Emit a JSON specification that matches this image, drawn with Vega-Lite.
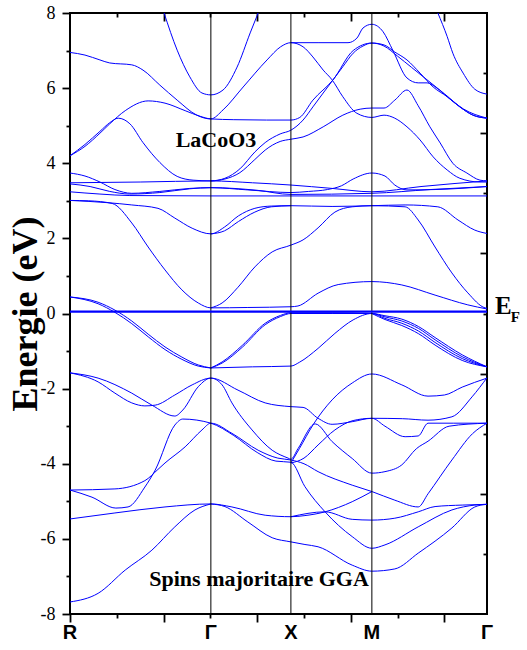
{
"$schema": "https://vega.github.io/schema/vega-lite/v6.json",
"width": 417, "height": 601,
"autosize": {"type": "none"},
"padding": {"left": 70, "top": 13, "right": 40, "bottom": 36},
"background": "white",
"config": {"view": {"stroke": "black", "strokeWidth": 2}, "axis": {"domain": false, "grid": false, "tickColor": "black", "tickWidth": 1.8}},
"datasets": {
"bands": [
{"b":1,"k":0,"e":6.95},{"b":1,"k":0.32,"e":6.88},{"b":1,"k":0.64,"e":6.75},{"b":1,"k":0.85,"e":6.67},{"b":1,"k":1.32,"e":6.62},{"b":1,"k":1.56,"e":6.48},{"b":1,"k":1.92,"e":6.08},{"b":1,"k":2.29,"e":5.68},{"b":1,"k":2.71,"e":5.28},{"b":1,"k":3.01,"e":5.18},{"b":1,"k":3.27,"e":5.42},{"b":1,"k":3.7,"e":6.03},{"b":1,"k":4.21,"e":6.75},{"b":1,"k":4.5,"e":7.1},{"b":1,"k":4.72,"e":7.21},{"b":1,"k":4.98,"e":7.1},{"b":1,"k":5.19,"e":6.83},{"b":1,"k":5.41,"e":6.48},{"b":1,"k":5.6,"e":6.22},{"b":1,"k":5.83,"e":5.77},{"b":1,"k":6.13,"e":5.33},{"b":1,"k":6.45,"e":5.22},{"b":1,"k":6.71,"e":5.28},{"b":1,"k":6.94,"e":5.2},{"b":1,"k":7.2,"e":4.97},{"b":1,"k":7.48,"e":4.62},{"b":1,"k":7.76,"e":4.17},{"b":1,"k":8.06,"e":3.82},{"b":1,"k":8.33,"e":3.6},{"b":1,"k":8.76,"e":3.5},{"b":1,"k":8.91,"e":3.5},
{"b":2,"k":2.01,"e":8.0},{"b":2,"k":2.29,"e":7.01},{"b":2,"k":2.56,"e":6.3},{"b":2,"k":2.82,"e":5.87},{"b":2,"k":3.01,"e":5.82},{"b":2,"k":3.27,"e":5.95},{"b":2,"k":3.57,"e":6.56},{"b":2,"k":3.85,"e":7.47},{"b":2,"k":4.02,"e":8.0},
{"b":3,"k":7.86,"e":8.0},{"b":3,"k":8.06,"e":7.37},{"b":3,"k":8.18,"e":6.93},{"b":3,"k":8.4,"e":6.4},{"b":3,"k":8.65,"e":5.97},{"b":3,"k":8.91,"e":5.84},
{"b":4,"k":0,"e":4.2},{"b":4,"k":0.32,"e":4.5},{"b":4,"k":0.64,"e":4.85},{"b":4,"k":0.85,"e":5.08},{"b":4,"k":1.03,"e":5.2},{"b":4,"k":1.28,"e":5.05},{"b":4,"k":1.56,"e":4.55},{"b":4,"k":1.92,"e":4.02},{"b":4,"k":2.29,"e":3.65},{"b":4,"k":2.63,"e":3.55},{"b":4,"k":3.01,"e":3.53},{"b":4,"k":3.31,"e":3.6},{"b":4,"k":3.63,"e":3.85},{"b":4,"k":3.95,"e":4.3},{"b":4,"k":4.17,"e":4.55},{"b":4,"k":4.49,"e":4.78},{"b":4,"k":4.72,"e":4.88},{"b":4,"k":4.98,"e":5.15},{"b":4,"k":5.19,"e":5.5},{"b":4,"k":5.41,"e":5.87},{"b":4,"k":5.62,"e":6.22},{"b":4,"k":5.83,"e":6.57},{"b":4,"k":6.05,"e":6.93},{"b":4,"k":6.26,"e":7.12},{"b":4,"k":6.45,"e":7.2},{"b":4,"k":6.71,"e":7.15},{"b":4,"k":6.94,"e":6.96},{"b":4,"k":7.2,"e":6.75},{"b":4,"k":7.48,"e":6.4},{"b":4,"k":7.76,"e":6.03},{"b":4,"k":8.06,"e":5.77},{"b":4,"k":8.33,"e":5.5},{"b":4,"k":8.61,"e":5.28},{"b":4,"k":8.91,"e":5.2},
{"b":5,"k":0,"e":4.2},{"b":5,"k":0.32,"e":4.45},{"b":5,"k":0.64,"e":4.8},{"b":5,"k":0.85,"e":5.05},{"b":5,"k":1.18,"e":5.4},{"b":5,"k":1.67,"e":5.66},{"b":5,"k":2.03,"e":5.6},{"b":5,"k":2.46,"e":5.4},{"b":5,"k":2.78,"e":5.25},{"b":5,"k":3.01,"e":5.18},{"b":5,"k":3.5,"e":5.16},{"b":5,"k":4.2,"e":5.15},{"b":5,"k":4.72,"e":5.15},{"b":5,"k":4.91,"e":5.22},{"b":5,"k":5.19,"e":5.68},{"b":5,"k":5.62,"e":6.22},{"b":5,"k":6.05,"e":7.0},{"b":5,"k":6.45,"e":7.2},{"b":5,"k":6.71,"e":7.12},{"b":5,"k":7.0,"e":6.85},{"b":5,"k":7.3,"e":6.55},{"b":5,"k":7.65,"e":6.2},{"b":5,"k":8.0,"e":5.85},{"b":5,"k":8.4,"e":5.45},{"b":5,"k":8.91,"e":5.2},
{"b":6,"k":4.72,"e":7.21},{"b":6,"k":5.3,"e":7.21},{"b":6,"k":5.94,"e":7.21},{"b":6,"k":6.13,"e":7.33},{"b":6,"k":6.26,"e":7.6},{"b":6,"k":6.45,"e":7.7},{"b":6,"k":6.69,"e":7.5},{"b":6,"k":6.9,"e":7.0},{"b":6,"k":7.2,"e":6.27},{"b":6,"k":7.44,"e":6.14},{"b":6,"k":7.63,"e":6.14},{"b":6,"k":7.84,"e":6.0},{"b":6,"k":8.06,"e":5.77},{"b":6,"k":8.33,"e":5.5},{"b":6,"k":8.61,"e":5.28},{"b":6,"k":8.91,"e":5.2},
{"b":7,"k":3.01,"e":3.53},{"b":7,"k":3.31,"e":3.58},{"b":7,"k":3.63,"e":3.75},{"b":7,"k":3.95,"e":4.1},{"b":7,"k":4.17,"e":4.35},{"b":7,"k":4.49,"e":4.58},{"b":7,"k":4.72,"e":4.64},{"b":7,"k":4.98,"e":4.7},{"b":7,"k":5.41,"e":4.97},{"b":7,"k":5.83,"e":5.28},{"b":7,"k":6.2,"e":5.44},{"b":7,"k":6.45,"e":5.47},{"b":7,"k":6.71,"e":5.47},{"b":7,"k":6.94,"e":5.68},{"b":7,"k":7.2,"e":5.95},{"b":7,"k":7.44,"e":5.53},{"b":7,"k":7.69,"e":4.97},{"b":7,"k":7.91,"e":4.54},{"b":7,"k":8.18,"e":4.0},{"b":7,"k":8.48,"e":3.74},{"b":7,"k":8.76,"e":3.55},{"b":7,"k":8.91,"e":3.53},
{"b":8,"k":0,"e":3.74},{"b":8,"k":0.32,"e":3.66},{"b":8,"k":0.64,"e":3.5},{"b":8,"k":0.96,"e":3.3},{"b":8,"k":1.32,"e":3.2},{"b":8,"k":1.92,"e":3.25},{"b":8,"k":2.56,"e":3.33},{"b":8,"k":3.01,"e":3.35},{"b":8,"k":3.8,"e":3.29},{"b":8,"k":4.72,"e":3.22},{"b":8,"k":5.1,"e":3.25},{"b":8,"k":5.5,"e":3.3},{"b":8,"k":5.8,"e":3.4},{"b":8,"k":6.05,"e":3.58},{"b":8,"k":6.45,"e":3.74},{"b":8,"k":6.73,"e":3.66},{"b":8,"k":6.94,"e":3.42},{"b":8,"k":7.2,"e":3.29},{"b":8,"k":7.8,"e":3.3},{"b":8,"k":8.91,"e":3.38},
{"b":9,"k":0,"e":3.48},{"b":9,"k":1.5,"e":3.5},{"b":9,"k":3.01,"e":3.53},{"b":9,"k":3.9,"e":3.48},{"b":9,"k":4.72,"e":3.42},{"b":9,"k":5.6,"e":3.33},{"b":9,"k":6.45,"e":3.24},{"b":9,"k":7.5,"e":3.38},{"b":9,"k":8.91,"e":3.53},
{"b":10,"k":0,"e":3.45},{"b":10,"k":0.43,"e":3.38},{"b":10,"k":0.85,"e":3.25},{"b":10,"k":1.28,"e":3.18},{"b":10,"k":1.92,"e":3.22},{"b":10,"k":2.56,"e":3.32},{"b":10,"k":3.01,"e":3.35},{"b":10,"k":4.0,"e":3.28},{"b":10,"k":4.72,"e":3.17},{"b":10,"k":6.45,"e":3.2},{"b":10,"k":7.7,"e":3.3},{"b":10,"k":8.91,"e":3.38},
{"b":11,"k":0,"e":3.24},{"b":11,"k":0.64,"e":3.18},{"b":11,"k":1.28,"e":3.14},{"b":11,"k":3.01,"e":3.13},{"b":11,"k":4.72,"e":3.13},{"b":11,"k":6.45,"e":3.13},{"b":11,"k":8.91,"e":3.13},
{"b":12,"k":0,"e":3.01},{"b":12,"k":0.81,"e":2.95},{"b":12,"k":1.32,"e":2.89},{"b":12,"k":1.88,"e":2.8},{"b":12,"k":2.24,"e":2.54},{"b":12,"k":2.61,"e":2.27},{"b":12,"k":3.01,"e":2.12},{"b":12,"k":3.3,"e":2.3},{"b":12,"k":3.6,"e":2.6},{"b":12,"k":3.95,"e":2.8},{"b":12,"k":4.3,"e":2.86},{"b":12,"k":4.72,"e":2.87},{"b":12,"k":5.6,"e":2.85},{"b":12,"k":6.45,"e":2.87},{"b":12,"k":7.16,"e":2.89},{"b":12,"k":7.86,"e":2.84},{"b":12,"k":8.29,"e":2.49},{"b":12,"k":8.65,"e":2.22},{"b":12,"k":8.91,"e":2.13},
{"b":13,"k":3.01,"e":2.12},{"b":13,"k":3.3,"e":2.2},{"b":13,"k":3.6,"e":2.45},{"b":13,"k":3.95,"e":2.7},{"b":13,"k":4.3,"e":2.84},{"b":13,"k":4.72,"e":2.87},
{"b":14,"k":0,"e":3.01},{"b":14,"k":0.4,"e":3.0},{"b":14,"k":0.9,"e":2.93},{"b":14,"k":1.32,"e":2.41},{"b":14,"k":1.67,"e":1.77},{"b":14,"k":2.03,"e":1.16},{"b":14,"k":2.39,"e":0.63},{"b":14,"k":2.74,"e":0.28},{"b":14,"k":3.01,"e":0.15},{"b":14,"k":3.8,"e":0.16},{"b":14,"k":4.72,"e":0.18},{"b":14,"k":4.87,"e":0.2},{"b":14,"k":5.3,"e":0.54},{"b":14,"k":5.73,"e":0.77},{"b":14,"k":6.45,"e":0.85},{"b":14,"k":7.09,"e":0.76},{"b":14,"k":7.8,"e":0.49},{"b":14,"k":8.5,"e":0.23},{"b":14,"k":8.91,"e":0.12},
{"b":15,"k":3.01,"e":0.15},{"b":15,"k":3.25,"e":0.28},{"b":15,"k":3.59,"e":0.7},{"b":15,"k":3.95,"e":1.24},{"b":15,"k":4.32,"e":1.64},{"b":15,"k":4.72,"e":1.82},{"b":15,"k":4.98,"e":1.96},{"b":15,"k":5.3,"e":2.28},{"b":15,"k":5.66,"e":2.7},{"b":15,"k":6.03,"e":2.84},{"b":15,"k":6.45,"e":2.87},{"b":15,"k":7.16,"e":2.84},{"b":15,"k":7.44,"e":2.49},{"b":15,"k":7.8,"e":1.77},{"b":15,"k":8.16,"e":1.08},{"b":15,"k":8.5,"e":0.55},{"b":15,"k":8.87,"e":0.15},{"b":15,"k":8.91,"e":0.14},
{"b":16,"k":0,"e":0.44},{"b":16,"k":0.6,"e":0.3},{"b":16,"k":0.96,"e":0.09},{"b":16,"k":1.32,"e":-0.2},{"b":16,"k":1.67,"e":-0.55},{"b":16,"k":2.03,"e":-0.89},{"b":16,"k":2.39,"e":-1.16},{"b":16,"k":2.74,"e":-1.37},{"b":16,"k":3.01,"e":-1.45},
{"b":17,"k":0,"e":0.44},{"b":17,"k":0.6,"e":0.26},{"b":17,"k":0.96,"e":0.03},{"b":17,"k":1.32,"e":-0.27},{"b":17,"k":1.67,"e":-0.62},{"b":17,"k":2.03,"e":-0.96},{"b":17,"k":2.39,"e":-1.22},{"b":17,"k":2.74,"e":-1.4},{"b":17,"k":3.01,"e":-1.45},
{"b":18,"k":3.01,"e":-1.45},{"b":18,"k":3.25,"e":-1.32},{"b":18,"k":3.68,"e":-0.9},{"b":18,"k":4.17,"e":-0.3},{"b":18,"k":4.5,"e":-0.08},{"b":18,"k":4.72,"e":0.0},{"b":18,"k":5.6,"e":0.0},{"b":18,"k":6.45,"e":0.0},{"b":18,"k":6.73,"e":-0.09},{"b":18,"k":7.09,"e":-0.2},{"b":18,"k":7.45,"e":-0.4},{"b":18,"k":7.8,"e":-0.7},{"b":18,"k":8.38,"e":-1.15},{"b":18,"k":8.91,"e":-1.42},
{"b":19,"k":3.01,"e":-1.45},{"b":19,"k":3.25,"e":-1.29},{"b":19,"k":3.68,"e":-0.85},{"b":19,"k":4.17,"e":-0.26},{"b":19,"k":4.5,"e":-0.05},{"b":19,"k":4.72,"e":0.02},{"b":19,"k":5.6,"e":0.02},{"b":19,"k":6.45,"e":0.0},{"b":19,"k":6.73,"e":-0.13},{"b":19,"k":7.09,"e":-0.26},{"b":19,"k":7.45,"e":-0.47},{"b":19,"k":7.8,"e":-0.77},{"b":19,"k":8.38,"e":-1.2},{"b":19,"k":8.91,"e":-1.42},
{"b":20,"k":3.01,"e":-1.45},{"b":20,"k":3.9,"e":-1.42},{"b":20,"k":4.72,"e":-1.4},{"b":20,"k":4.9,"e":-1.3},{"b":20,"k":5.3,"e":-0.93},{"b":20,"k":5.66,"e":-0.53},{"b":20,"k":6.05,"e":-0.17},{"b":20,"k":6.45,"e":0.0},{"b":20,"k":6.73,"e":-0.06},{"b":20,"k":7.09,"e":-0.15},{"b":20,"k":7.45,"e":-0.35},{"b":20,"k":7.8,"e":-0.64},{"b":20,"k":8.38,"e":-1.1},{"b":20,"k":8.91,"e":-1.42},
{"b":21,"k":6.45,"e":0.0},{"b":21,"k":6.73,"e":-0.16},{"b":21,"k":7.09,"e":-0.32},{"b":21,"k":7.45,"e":-0.54},{"b":21,"k":7.8,"e":-0.84},{"b":21,"k":8.38,"e":-1.25},{"b":21,"k":8.91,"e":-1.42},
{"b":22,"k":0,"e":-1.58},{"b":22,"k":0.6,"e":-1.82},{"b":22,"k":0.96,"e":-2.12},{"b":22,"k":1.32,"e":-2.38},{"b":22,"k":1.6,"e":-2.46},{"b":22,"k":1.82,"e":-2.44},{"b":22,"k":2.24,"e":-2.17},{"b":22,"k":2.61,"e":-1.9},{"b":22,"k":3.01,"e":-1.72},{"b":22,"k":3.59,"e":-2.04},{"b":22,"k":4.17,"e":-2.38},{"b":22,"k":4.72,"e":-2.48},{"b":22,"k":4.98,"e":-2.5},{"b":22,"k":5.3,"e":-2.79},{"b":22,"k":5.6,"e":-2.95},{"b":22,"k":6.03,"e":-2.88},{"b":22,"k":6.45,"e":-2.79},{"b":22,"k":7.1,"e":-2.8},{"b":22,"k":7.65,"e":-2.84},{"b":22,"k":8.16,"e":-2.75},{"b":22,"k":8.59,"e":-2.22},{"b":22,"k":8.91,"e":-1.71},
{"b":23,"k":0,"e":-1.58},{"b":23,"k":0.6,"e":-1.72},{"b":23,"k":1.32,"e":-2.12},{"b":23,"k":1.75,"e":-2.44},{"b":23,"k":2.24,"e":-2.73},{"b":23,"k":2.41,"e":-2.57},{"b":23,"k":2.74,"e":-1.95},{"b":23,"k":3.01,"e":-1.72},{"b":23,"k":3.25,"e":-1.9},{"b":23,"k":3.46,"e":-2.38},{"b":23,"k":3.89,"e":-3.1},{"b":23,"k":4.32,"e":-3.64},{"b":23,"k":4.66,"e":-3.85},{"b":23,"k":4.72,"e":-3.88},{"b":23,"k":4.87,"e":-3.6},{"b":23,"k":5.24,"e":-2.94},{"b":23,"k":5.6,"e":-3.41},{"b":23,"k":6.03,"e":-3.86},{"b":23,"k":6.45,"e":-4.25},{"b":23,"k":6.73,"e":-4.21},{"b":23,"k":7.09,"e":-4.03},{"b":23,"k":7.4,"e":-3.6},{"b":23,"k":7.65,"e":-3.4},{"b":23,"k":8.1,"e":-3.0},{"b":23,"k":8.91,"e":-2.92},
{"b":24,"k":4.72,"e":-3.98},{"b":24,"k":4.9,"e":-3.6},{"b":24,"k":5.2,"e":-2.95},{"b":24,"k":5.6,"e":-2.3},{"b":24,"k":6.03,"e":-1.85},{"b":24,"k":6.45,"e":-1.61},{"b":24,"k":7.09,"e":-1.9},{"b":24,"k":7.65,"e":-2.2},{"b":24,"k":8.0,"e":-2.17},{"b":24,"k":8.38,"e":-1.96},{"b":24,"k":8.91,"e":-1.72},
{"b":25,"k":4.72,"e":-3.98},{"b":25,"k":5.0,"e":-3.85},{"b":25,"k":5.3,"e":-3.5},{"b":25,"k":5.66,"e":-3.1},{"b":25,"k":6.05,"e":-2.85},{"b":25,"k":6.45,"e":-2.79},{"b":25,"k":6.73,"e":-3.0},{"b":25,"k":7.16,"e":-3.28},{"b":25,"k":7.44,"e":-3.26},{"b":25,"k":7.65,"e":-2.92},{"b":25,"k":8.2,"e":-2.92},{"b":25,"k":8.91,"e":-2.92},
{"b":26,"k":0,"e":-4.7},{"b":26,"k":0.96,"e":-4.67},{"b":26,"k":1.6,"e":-4.45},{"b":26,"k":1.88,"e":-4.15},{"b":26,"k":2.03,"e":-3.98},{"b":26,"k":2.46,"e":-3.55},{"b":26,"k":2.82,"e":-3.1},{"b":26,"k":3.01,"e":-2.92},{"b":26,"k":3.46,"e":-3.19},{"b":26,"k":4.02,"e":-3.64},{"b":26,"k":4.44,"e":-3.85},{"b":26,"k":4.72,"e":-3.9},{"b":26,"k":5.0,"e":-4.0},{"b":26,"k":5.3,"e":-4.21},{"b":26,"k":6.03,"e":-4.57},{"b":26,"k":6.45,"e":-4.74},{"b":26,"k":6.94,"e":-4.97},{"b":26,"k":7.44,"e":-5.15},{"b":26,"k":7.65,"e":-4.8},{"b":26,"k":8.16,"e":-3.9},{"b":26,"k":8.6,"e":-3.2},{"b":26,"k":8.91,"e":-2.92},
{"b":27,"k":0,"e":-4.7},{"b":27,"k":0.47,"e":-4.89},{"b":27,"k":0.98,"e":-5.18},{"b":27,"k":1.24,"e":-5.15},{"b":27,"k":1.6,"e":-4.62},{"b":27,"k":1.82,"e":-4.17},{"b":27,"k":2.24,"e":-2.97},{"b":27,"k":2.41,"e":-2.81},{"b":27,"k":3.01,"e":-2.92},{"b":27,"k":3.5,"e":-3.25},{"b":27,"k":4.0,"e":-3.7},{"b":27,"k":4.4,"e":-3.93},{"b":27,"k":4.72,"e":-3.96},{"b":27,"k":5.02,"e":-4.61},{"b":27,"k":5.45,"e":-5.28},{"b":27,"k":6.03,"e":-5.94},{"b":27,"k":6.45,"e":-6.25},{"b":27,"k":6.73,"e":-6.16},{"b":27,"k":7.44,"e":-5.68},{"b":27,"k":8.16,"e":-5.23},{"b":27,"k":8.65,"e":-5.1},{"b":27,"k":8.91,"e":-5.08},
{"b":28,"k":0,"e":-5.47},{"b":28,"k":0.96,"e":-5.31},{"b":28,"k":2.03,"e":-5.15},{"b":28,"k":3.01,"e":-5.07},{"b":28,"k":3.46,"e":-5.15},{"b":28,"k":4.17,"e":-5.37},{"b":28,"k":4.72,"e":-5.41},{"b":28,"k":5.02,"e":-5.38},{"b":28,"k":5.45,"e":-5.28},{"b":28,"k":6.03,"e":-5.01},{"b":28,"k":6.45,"e":-4.74},
{"b":29,"k":3.01,"e":-5.07},{"b":29,"k":3.31,"e":-5.14},{"b":29,"k":3.8,"e":-5.55},{"b":29,"k":4.32,"e":-5.97},{"b":29,"k":4.72,"e":-6.08},{"b":29,"k":5.02,"e":-6.15},{"b":29,"k":5.3,"e":-6.21},{"b":29,"k":6.03,"e":-6.7},{"b":29,"k":6.45,"e":-6.86},{"b":29,"k":6.94,"e":-6.8},{"b":29,"k":7.44,"e":-6.38},{"b":29,"k":8.16,"e":-5.71},{"b":29,"k":8.65,"e":-5.15},{"b":29,"k":8.91,"e":-5.08},
{"b":30,"k":4.72,"e":-5.41},{"b":30,"k":5.45,"e":-5.28},{"b":30,"k":6.03,"e":-5.48},{"b":30,"k":6.45,"e":-5.5},{"b":30,"k":6.94,"e":-5.45},{"b":30,"k":7.44,"e":-5.28},{"b":30,"k":7.8,"e":-5.14},{"b":30,"k":8.38,"e":-5.1},{"b":30,"k":8.91,"e":-5.08},
{"b":31,"k":0,"e":-7.68},{"b":31,"k":0.6,"e":-7.45},{"b":31,"k":1.18,"e":-6.83},{"b":31,"k":1.75,"e":-6.3},{"b":31,"k":2.24,"e":-5.68},{"b":31,"k":2.67,"e":-5.23},{"b":31,"k":3.01,"e":-5.07}
],
"sym": [{"k":0,"t":"R"},{"k":3.01,"t":"Γ"},{"k":4.72,"t":"X"},{"k":6.45,"t":"M"},{"k":8.91,"t":"Γ"}],
"vlines": [{"k":3.01},{"k":4.72},{"k":6.45}],
"fermi": [{"e":0.05}],
"one": [{}]
},
"layer": [
{
"data": {"name": "bands"},
"mark": {"type": "line", "color": "#0000ff", "strokeWidth": 1, "interpolate": "monotone", "clip": true},
"encoding": {
"x": {"field": "k", "type": "quantitative", "scale": {"domain": [0, 8.91], "nice": false, "zero": false},
"axis": {"orient": "bottom", "values": [0,1,2,3,4,5,6,7,8], "labels": false, "title": null,
"tickSize": {"condition": {"test": "datum.value % 2 === 0", "value": 8}, "value": 4}}},
"y": {"field": "e", "type": "quantitative", "scale": {"domain": [-8, 8], "nice": false, "zero": false},
"axis": {"orient": "left", "values": [-8,-7,-6,-5,-4,-3,-2,-1,0,1,2,3,4,5,6,7,8],
"labelExpr": "datum.value % 2 === 0 ? '' + datum.value : ''", "labelFont": "Liberation Serif", "labelFontSize": 18, "labelColor": "black", "labelPadding": 7, "labelFlush": false, "labelOverlap": false,
"tickSize": {"condition": {"test": "datum.value % 2 === 0", "value": 8}, "value": 4},
"title": "Energie (eV)", "titleFont": "Liberation Serif", "titleFontSize": 36, "titleFontWeight": "bold", "titleColor": "black", "titlePadding": -4}},
"detail": {"field": "b", "type": "nominal"}
}
},
{
"data": {"name": "vlines"},
"mark": {"type": "rule", "color": "black", "strokeWidth": 1},
"encoding": {
"x": {"field": "k", "type": "quantitative",
"axis": {"orient": "top", "values": [1,2,3,4,5,6,7,8], "labels": false, "title": null,
"tickSize": {"condition": {"test": "datum.value % 2 === 0", "value": -8}, "value": -4}}}
}
},
{
"data": {"name": "fermi"},
"mark": {"type": "rule", "color": "#0000ff", "strokeWidth": 2.2},
"encoding": {
"y": {"field": "e", "type": "quantitative",
"axis": {"orient": "right", "values": [-6.4,-4.8,-3.2,-1.6,0,1.6,3.2,4.8,6.4], "labels": false, "title": null,
"tickSize": {"condition": {"test": "abs(round(datum.value / 1.6)) % 2 === 1", "value": -7}, "value": -4}}}
}
},
{
"data": {"name": "sym"},
"mark": {"type": "text", "font": "Liberation Sans", "fontWeight": "bold", "fontSize": 20, "color": "black", "baseline": "top", "align": "center", "dy": 9},
"encoding": {
"x": {"field": "k", "type": "quantitative", "axis": null},
"y": {"datum": -8, "type": "quantitative", "axis": null},
"text": {"field": "t"}
}
},
{
"data": {"name": "one"},
"mark": {"type": "text", "font": "Liberation Serif", "fontWeight": "bold", "fontSize": 22, "color": "black", "baseline": "alphabetic", "align": "center"},
"encoding": {
"x": {"datum": 3.12, "type": "quantitative", "axis": null},
"y": {"datum": 4.43, "type": "quantitative", "axis": null},
"text": {"value": "LaCoO3"}
}
},
{
"data": {"name": "one"},
"mark": {"type": "text", "font": "Liberation Serif", "fontWeight": "bold", "fontSize": 22, "color": "black", "baseline": "alphabetic", "align": "center"},
"encoding": {
"x": {"datum": 4.04, "type": "quantitative", "axis": null},
"y": {"datum": -7.26, "type": "quantitative", "axis": null},
"text": {"value": "Spins majoritaire GGA"}
}
},
{
"data": {"name": "one"},
"mark": {"type": "text", "font": "Liberation Serif", "fontWeight": "bold", "fontSize": 25, "color": "black", "baseline": "alphabetic", "align": "left"},
"encoding": {
"x": {"datum": 9.08, "type": "quantitative", "axis": null},
"y": {"datum": 0.0, "type": "quantitative", "axis": null},
"text": {"value": "E"}
}
},
{
"data": {"name": "one"},
"mark": {"type": "text", "font": "Liberation Serif", "fontWeight": "bold", "fontSize": 15, "color": "black", "baseline": "alphabetic", "align": "left"},
"encoding": {
"x": {"datum": 9.42, "type": "quantitative", "axis": null},
"y": {"datum": -0.23, "type": "quantitative", "axis": null},
"text": {"value": "F"}
}
}
],
"resolve": {"axis": {"x": "independent", "y": "independent"}}
}
